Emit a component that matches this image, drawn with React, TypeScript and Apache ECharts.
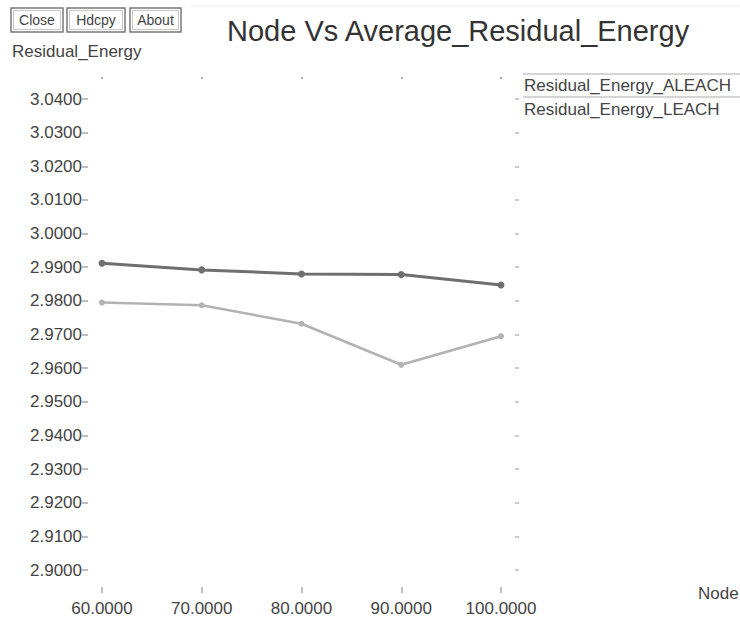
import React, { useEffect, useRef } from "react";
import * as echarts from "echarts";

const nodes = [60, 70, 80, 90, 100];
const aleach = [2.9912, 2.9892, 2.988, 2.9878, 2.9847];
const leach = [2.9795, 2.9787, 2.9732, 2.961, 2.9695];
const seriesNames = ["Residual_Energy_ALEACH", "Residual_Energy_LEACH"];
const buttons = ["Close", "Hdcpy", "About"];
const titleText = "Node Vs Average_Residual_Energy";
const yTitle = "Residual_Energy";
const xTitle = "Node";

const FONT = "'Liberation Sans', Arial, sans-serif";

export default function App() {
  const ref = useRef<HTMLDivElement>(null);
  useEffect(() => {
    if (!ref.current) return;
    const chart = echarts.init(ref.current, null, { renderer: "svg" });
    const btnX = [11, 67, 130];
    const btnW = [52, 58, 51];
    const btnGraphics: any[] = [];
    buttons.forEach((b, i) => {
      btnGraphics.push({
        type: "rect",
        shape: { x: btnX[i], y: 8, width: btnW[i], height: 24 },
        style: { fill: "#fff", stroke: "#7a7a7a", lineWidth: 1.5 },
      });
      btnGraphics.push({
        type: "rect",
        shape: { x: btnX[i] + 2.5, y: 10.5, width: btnW[i] - 5, height: 19 },
        style: { fill: "#fff", stroke: "#c8c8c8", lineWidth: 1 },
      });
      btnGraphics.push({
        type: "text",
        x: btnX[i] + btnW[i] / 2,
        y: 20,
        style: {
          text: b,
          fill: "#444",
          font: `14px ${FONT}`,
          align: "center",
          verticalAlign: "middle",
        },
      });
    });
    chart.setOption({
      animation: false,
      backgroundColor: "#fff",
      grid: { left: 102, right: 239, top: 99, bottom: 48 },
      xAxis: [
        {
          type: "value",
          min: 60,
          max: 100,
          interval: 10,
          position: "bottom",
          offset: 17,
          axisLine: { show: false },
          axisTick: { show: true, length: 6, lineStyle: { color: "#aaa", width: 1.5 } },
          axisLabel: {
            margin: 13,
            color: "#444",
            fontSize: 17,
            fontFamily: FONT,
            formatter: (v: number) => v.toFixed(4),
          },
          splitLine: { show: false },
        },
        {
          type: "value",
          min: 60,
          max: 100,
          interval: 10,
          position: "top",
          offset: 20,
          axisLine: { show: false },
          axisTick: { show: true, length: 2, lineStyle: { color: "#aaa", width: 2 } },
          axisLabel: { show: false },
          splitLine: { show: false },
        },
      ],
      yAxis: [
        {
          type: "value",
          min: 2.9,
          max: 3.04,
          interval: 0.01,
          position: "left",
          offset: 14,
          axisLine: { show: false },
          axisTick: { show: true, length: 6, lineStyle: { color: "#aaa", width: 1.5 } },
          axisLabel: {
            margin: 6,
            color: "#444",
            fontSize: 17,
            fontFamily: FONT,
            formatter: (v: number) => v.toFixed(4),
          },
          splitLine: { show: false },
        },
        {
          type: "value",
          min: 2.9,
          max: 3.04,
          interval: 0.01,
          position: "right",
          offset: 14,
          axisLine: { show: false },
          axisTick: { show: true, length: 4, lineStyle: { color: "#bbb", width: 1.5 } },
          axisLabel: { show: false },
          splitLine: { show: false },
        },
      ],
      series: [
        {
          name: seriesNames[0],
          type: "line",
          data: nodes.map((n, i) => [n, aleach[i]]),
          symbol: "circle",
          symbolSize: 7,
          lineStyle: { color: "#6f6f6f", width: 3 },
          itemStyle: { color: "#6f6f6f" },
        },
        {
          name: seriesNames[1],
          type: "line",
          data: nodes.map((n, i) => [n, leach[i]]),
          symbol: "circle",
          symbolSize: 6,
          lineStyle: { color: "#b2b2b2", width: 2.5 },
          itemStyle: { color: "#b2b2b2" },
        },
      ],
      graphic: [
        ...btnGraphics,
        {
          type: "line",
          shape: { x1: 190, y1: 6, x2: 740, y2: 6 },
          style: { stroke: "#eeeeee", lineWidth: 1 },
        },
        {
          type: "text",
          x: 227,
          y: 31,
          style: {
            text: titleText,
            fill: "#333",
            font: `29px ${FONT}`,
            verticalAlign: "middle",
          },
        },
        {
          type: "text",
          x: 12,
          y: 51,
          style: {
            text: yTitle,
            fill: "#444",
            font: `17px ${FONT}`,
            verticalAlign: "middle",
          },
        },
        {
          type: "line",
          shape: { x1: 523, y1: 74, x2: 740, y2: 74 },
          style: { stroke: "#aaa", lineWidth: 1.2 },
        },
        {
          type: "line",
          shape: { x1: 523, y1: 97, x2: 740, y2: 97 },
          style: { stroke: "#aaa", lineWidth: 1.2 },
        },
        {
          type: "text",
          x: 524,
          y: 85,
          style: {
            text: seriesNames[0],
            fill: "#444",
            font: `17px ${FONT}`,
            verticalAlign: "middle",
          },
        },
        {
          type: "text",
          x: 524,
          y: 109,
          style: {
            text: seriesNames[1],
            fill: "#444",
            font: `17px ${FONT}`,
            verticalAlign: "middle",
          },
        },
        {
          type: "text",
          x: 698,
          y: 593,
          style: {
            text: xTitle,
            fill: "#444",
            font: `17px ${FONT}`,
            verticalAlign: "middle",
          },
        },
      ],
    });
    return () => chart.dispose();
  }, []);
  return (
    <div
      ref={ref}
      style={{ position: "fixed", left: 0, top: 0, width: 740, height: 618 }}
    />
  );
}
